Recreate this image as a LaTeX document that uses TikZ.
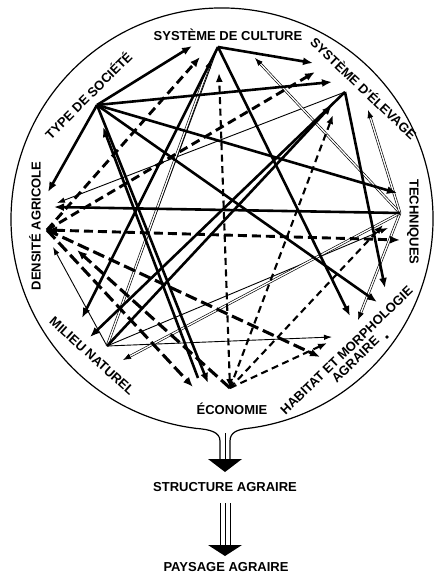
\documentclass[tikz,border=0pt]{standalone}
\usepackage{fontspec}
\setmainfont{Liberation Sans}
\usetikzlibrary{arrows.meta,calc}
\begin{document}
\begin{tikzpicture}[x=1pt,y=-1pt,
  lab/.style={font=\bfseries\fontsize{13}{13}\selectfont, inner sep=0pt},
  thk/.style={line width=2.6pt, -{Latex[length=10pt,width=8pt]}},
  dsh/.style={line width=2.9pt, dash pattern=on 9pt off 5pt, -{Latex[length=10pt,width=8pt]}},
  dshl/.style={dsh, dash pattern=on 12pt off 5pt, line width=3.1pt},
  dshm/.style={line width=2.1pt, dash pattern=on 7pt off 4.5pt, -{Latex[length=9pt,width=7pt]}},
  thn/.style={line width=0.9pt, -{Latex[length=8pt,width=5.5pt]}},
  dblline/.style={double=white, double distance=1.3pt, line width=0.65pt},
  dbltip/.style={line width=0.6pt, -{Latex[length=8pt,width=6pt]}},
  frame/.style={line width=1.2pt},
]
\useasboundingbox (0,0) rectangle (435,575);
\newcommand\dblarrow[2]{\draw[dblline] (#1) -- ($(#2)!6pt!(#1)$); \draw[dbltip] ($(#2)!7pt!(#1)$) -- (#2);}

% ---- frame circle with funnel ----
\draw[frame] (220,460) -- (220,441) .. controls (220,432) and (210,429.5) .. (196.3,428.4)
  arc[start angle=-263, end angle=83, radius=211]
  .. controls (238,429.5) and (230,432) .. (230,441) -- (230,460);
\draw[line width=0.8pt] (225,433) -- (225,460);
\coordinate (f1) at (225,459);
\fill (f1) ++(-17,0) -- ++(34,0) -- (225,472) -- cycle;

% ---- vertices ----
\coordinate (C) at (218,47);
\coordinate (E) at (345,92);
\coordinate (T) at (400,213);
\coordinate (Ec) at (230,388);
\coordinate (M) at (107,346);
\coordinate (D) at (47,230);
\coordinate (Ty) at (97,105);

% ---- arrow ends ----
\coordinate (tyC) at (192,46);
\coordinate (tyD) at (48,192);
\coordinate (tyE) at (332,82);
\coordinate (tyT) at (397,193);
\coordinate (tyH) at (377,302);
\coordinate (tyEc) at (208,383);
\coordinate (ecS) at (198,378);
\coordinate (ecTy) at (103,127);
\coordinate (cE) at (313,63);
\coordinate (cH) at (350,316);
\coordinate (cM) at (82,318);
\coordinate (eM) at (90,337);
\coordinate (mE) at (332,105);
\coordinate (eH) at (385,288);
\coordinate (tD) at (54,207);
\coordinate (eD) at (57,203);
\coordinate (mT) at (388,228);
\coordinate (mH) at (332,337);
\coordinate (mD) at (53,247);
\coordinate (tC) at (255,58);
\coordinate (tE) at (368,110);
\coordinate (tH) at (358,320);
\coordinate (tM) at (123,360);
\coordinate (mC) at (211,60);
\coordinate (dC) at (200,57);
\coordinate (dE) at (315,72);
\coordinate (dT) at (400,240);
\coordinate (dH) at (320,357);
\coordinate (dEc) at (193,387);
\coordinate (ecD) at (77,250);
\coordinate (ecC) at (219,73);
\coordinate (ecE) at (333,115);
\coordinate (ecT) at (383,225);
\coordinate (ecH) at (327,343);

% ---- thin lines ----
\draw[line width=0.9pt] (M) -- (C);
\draw[thn] (E) -- (eD);
\draw[thn] (M) -- (mT);
\draw[thn] (M) -- (mH);
\draw[thn] (M) -- (mD);

% ---- double lines ----
\dblarrow{T}{tC}
\dblarrow{T}{tE}
\dblarrow{T}{tH}
\dblarrow{T}{tM}
\dblarrow{M}{mC}

% ---- dashed lines ----
\draw[dsh] (D) -- (dC);
\draw[dsh] (D) -- (dE);
\draw[dsh, {Latex[length=10pt,width=8pt]}-{Latex[length=10pt,width=8pt]}] (D) -- (dT);
\draw[dshl] (D) -- (dH);
\draw[dshl] (D) -- (dEc);
\draw[dshl] (Ec) -- (ecD);
\draw[dshm, {Latex[length=9pt,width=7pt]}-{Latex[length=9pt,width=7pt]}] (Ec) -- (ecC);
\draw[dshm] (Ec) -- (ecE);
\draw[dshm] (Ec) -- (ecT);
\draw[dshm] (Ec) -- (ecH);

% ---- thick solid lines ----
\draw[thk] (Ty) -- (tyC);
\draw[thk] (Ty) -- (tyD);
\draw[thk] (Ty) -- (tyE);
\draw[thk] (Ty) -- (tyT);
\draw[thk] (Ty) -- (tyH);
\draw[thk] (Ty) -- (tyEc);
\draw[thk] (ecS) -- (ecTy);
\draw[thk] (C) -- (cE);
\draw[thk] (C) -- (cH);
\draw[thk] (C) -- (cM);
\draw[thk] (E) -- (eM);
\draw[thk] (M) -- (mE);
\draw[thk] (E) -- (eH);
\draw[thk] (T) -- (tD);

% ---- labels ----
\node[lab] (lC) at (228,35) {SYSTÈME DE CULTURE};
\node[lab, rotate=-43.5] (lE) at (364,88) {SYSTÈME D'ÉLEVAGE};
\node[lab, rotate=-90] (lT) at (413,222) {TECHNIQUES};
\node[lab, rotate=44, align=center] (lH) at (351,355) {HABITAT ET MORPHOLOGIE\\[-0.3pt]AGRAIRE};
\node[circle, fill, inner sep=1.3pt] (dot) at (387,337) {};
\node[lab] (lEc) at (232,409) {ÉCONOMIE};
\node[lab, rotate=-42] (lM) at (92,356) {MILIEU NATUREL};
\node[lab, rotate=90] (lD) at (35,226) {DENSITÉ AGRICOLE};
\node[lab, rotate=45] (lTy) at (88,95) {TYPE DE SOCIÉTÉ};
\node[lab] (lS) at (225,487) {STRUCTURE AGRAIRE};
\node[lab] (lP) at (226,567) {PAYSAGE AGRAIRE};

% ---- second arrow ----
\coordinate (s1) at (225,503);
\coordinate (s2) at (225,545);
\foreach \dx/\w in {-5/1pt,0/0.7pt,5/1pt}
  \draw[line width=\w] ([xshift=\dx pt]s1) -- ([xshift=\dx pt]s2);
\fill ([xshift=-17pt]s2) -- ([xshift=17pt]s2) -- ([yshift=-11pt]s2) -- cycle;
\end{tikzpicture}
\end{document}
